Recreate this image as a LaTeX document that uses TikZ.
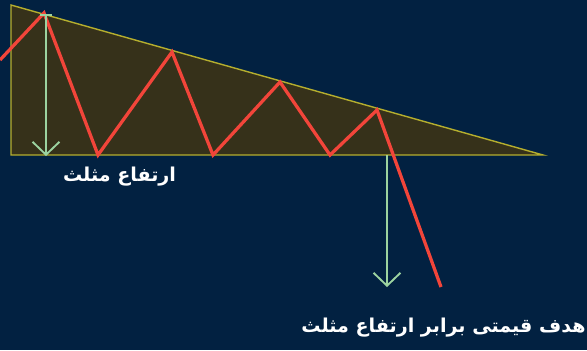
\documentclass[tikz,border=0pt]{standalone}
\usepackage{fontspec}
\TeXXeTstate=1
\newfontfamily\arabicfont[Script=Arabic]{DejaVu Sans}
\usetikzlibrary{arrows.meta}
\definecolor{bgnavy}{HTML}{022141}
\definecolor{triback}{HTML}{36311A}
\definecolor{triedge}{HTML}{B5AE2E}
\definecolor{zigred}{HTML}{F2453A}
\definecolor{hgtgreen}{HTML}{9CD3A0}

\begin{document}
\begin{tikzpicture}[
    x=0.03cm, y=-0.03cm,
    tri/.style={fill=triback, draw=triedge, line width=1.2pt, line join=miter},
    zig/.style={draw=zigred, line width=2.8pt, line join=miter},
    hgt/.style={draw=hgtgreen, line width=1.6pt,
                {Bar[width=10pt]}-{Straight Barb[length=11pt, width=23pt, line width=1.6pt]}},
    tgt/.style={draw=hgtgreen, line width=1.6pt,
                -{Straight Barb[length=11pt, width=23pt, line width=1.6pt]}},
    lbl/.style={text=white, font=\arabicfont\bfseries\fontsize{16.3}{20}\selectfont, inner sep=0pt},
  ]
  \fill[bgnavy] (0,0) rectangle (587,350);
  \useasboundingbox (0,0) rectangle (587,350);

  % triangle
  \coordinate (tl) at (11,5);
  \coordinate (bl) at (11,155);
  \coordinate (tip) at (543,155);
  \path[tri] (tl) -- (tip) -- (bl) -- cycle;

  % price path
  \coordinate (p0) at (0,60);
  \coordinate (p1) at (44,13);
  \coordinate (p2) at (98,155);
  \coordinate (p3) at (172,52);
  \coordinate (p4) at (213,155);
  \coordinate (p5) at (280,82);
  \coordinate (p6) at (330,155);
  \coordinate (p7) at (377,110);
  \coordinate (p8) at (441,287);
  \draw[zig] (p0) -- (p1) -- (p2) -- (p3) -- (p4) -- (p5) -- (p6) -- (p7) -- (p8);

  % height and target
  \coordinate (h1) at (46,14);
  \coordinate (h2) at (46,156);
  \draw[hgt] (h1) -- (h2);
  \coordinate (t1) at (387,155);
  \coordinate (t2) at (387,287);
  \draw[tgt] (t1) -- (t2);

  \node[lbl] (height) at (119.5,177) {\beginR ارتفاع مثلث\endR};
  \node[lbl] (target) at (443.5,328) {\beginR هدف قیمتی برابر ارتفاع مثلث\endR};
\end{tikzpicture}
\end{document}
